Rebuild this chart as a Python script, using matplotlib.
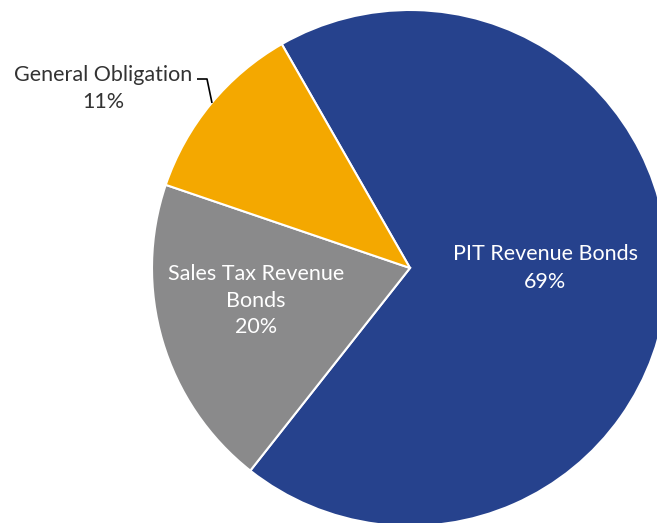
import numpy as np
import matplotlib.pyplot as plt

labels = ['PIT Revenue Bonds', 'Sales Tax Revenue\nBonds', 'General Obligation']
shares = [68.9, 19.6, 11.5]
pct_labels = ['69%', '20%', '11%']
colors = ['#26428d', '#8a8a8b', '#f4a800']

plt.rcParams['font.family'] = ['Lato', 'DejaVu Sans']

fig = plt.figure(figsize=(6.57, 5.23), dpi=100)
ax = fig.add_axes([0, 0, 1, 1])

wedges, _ = ax.pie(shares, colors=colors, startangle=119.8, counterclock=False,
                   radius=1.0, wedgeprops=dict(edgecolor='white', linewidth=1.5))

ax.set_xlim(-410 / 258, (657 - 410) / 258)
ax.set_ylim(-(523 - 268) / 258, 268 / 258)
ax.set_aspect('equal')
ax.axis('off')

fs = 15.5
# labels inside the two big slices
ax.text(0.525, 0.0, f'{labels[0]}\n{pct_labels[0]}', color='white', fontsize=fs,
        ha='center', va='center', linespacing=1.45)
ax.text(-0.598, -0.127, f'{labels[1]}\n{pct_labels[1]}', color='white', fontsize=fs,
        ha='center', va='center', linespacing=1.4)

# outside label with leader line for the small slice
ax.text(-1.19, 0.695, f'{labels[2]}\n{pct_labels[2]}', color='#333333', fontsize=fs,
        ha='center', va='center', linespacing=1.4)
ax.plot([(197 - 410) / 258, (207 - 410) / 258, (212 - 410) / 258],
        [(268 - 79) / 258, (268 - 79) / 258, (268 - 103) / 258],
        color='black', lw=1.2, solid_capstyle='butt')

fig.savefig('out.png', dpi=100)
